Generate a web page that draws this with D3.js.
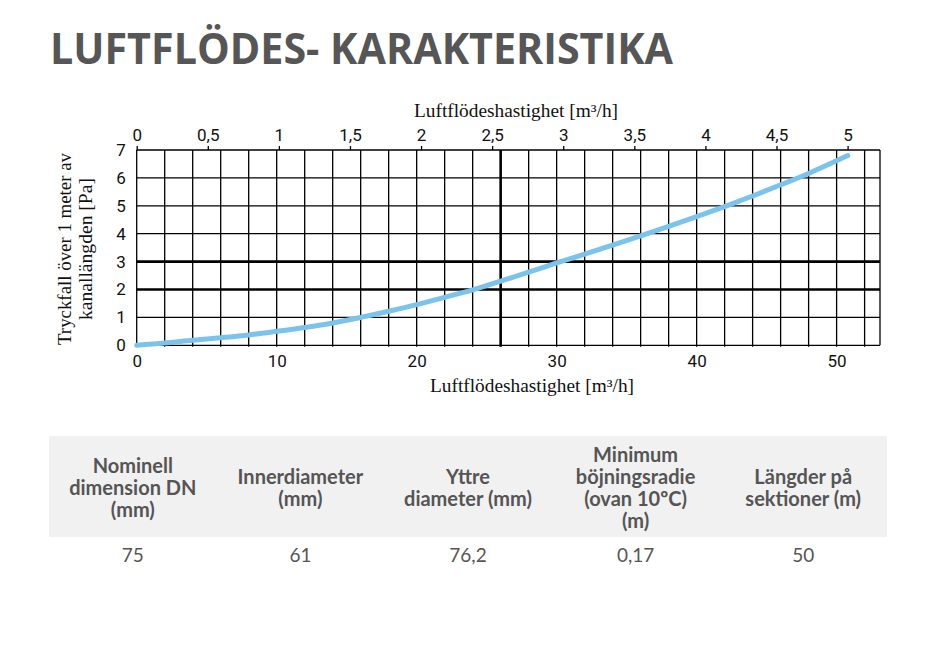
<!DOCTYPE html>
<html>
<head>
<meta charset="utf-8">
<script src="https://cdn.jsdelivr.net/npm/d3@7/dist/d3.min.js"></script>
<style>
  html, body { margin: 0; padding: 0; background: #fff; }
  svg { display: block; }
</style>
</head>
<body>
<svg id="chart" width="936" height="658"></svg>
<script>
// ---- data ----
const flow = [0, 2, 4, 6, 8, 10, 12, 14, 16, 18, 20, 22, 24, 26, 28, 30, 32, 34, 36, 38, 40, 42, 44, 46, 48, 50.8];
const pressure = [0, 0.08, 0.18, 0.27, 0.37, 0.5, 0.64, 0.8, 1.0, 1.22, 1.46, 1.72, 1.99, 2.3, 2.62, 2.95, 3.27, 3.59, 3.92, 4.26, 4.61, 4.97, 5.35, 5.75, 6.16, 6.8];
const bottomTicks = [0, 10, 20, 30, 40, 50];
const topTicks = [0, 0.5, 1, 1.5, 2, 2.5, 3, 3.5, 4, 4.5, 5];
const yTicks = [0, 1, 2, 3, 4, 5, 6, 7];
const flowMax = 53.1;
const topMax = 5.228;
const gridX = d3.range(0, 53, 2);
const gridY = [0, 1, 2, 3, 4, 5, 6, 7];
const boldX = [26];
const boldY = [2, 3];

const title = "LUFTFLÖDES- KARAKTERISTIKA";
const xTitle = "Luftflödeshastighet [m³/h]";
const yTitleLines = ["Tryckfall över 1 meter av", "kanallängden [Pa]"];
const tableHeaders = [
  ["Nominell", "dimension DN", "(mm)"],
  ["Innerdiameter", "(mm)"],
  ["Yttre", "diameter (mm)"],
  ["Minimum", "böjningsradie", "(ovan 10ºC)", "(m)"],
  ["Längder på", "sektioner (m)"]
];
const tableValues = ["75", "61", "76,2", "0,17", "50"];

// ---- layout ----
const svg = d3.select("#chart");
const L = 136.7, R = 880, T = 150, B = 345.3;
const x = d3.scaleLinear().domain([0, flowMax]).range([L, R]);
const xTop = d3.scaleLinear().domain([0, topMax]).range([L, R]);
const y = d3.scaleLinear().domain([0, 7]).range([B, T]);
const comma = d => String(d).replace(".", ",");

const tickFont = "Roboto, 'DejaVu Sans', sans-serif";
const serif = "'Liberation Serif', 'DejaVu Serif', serif";
const sansB = "Lato, 'Open Sans', sans-serif";

// title
svg.append("text")
  .attr("x", 50).attr("y", 63.5)
  .attr("font-family", "'Open Sans', sans-serif").attr("font-weight", 700)
  .attr("font-size", 43).attr("fill", "#565656")
  .attr("textLength", 623).attr("lengthAdjust", "spacingAndGlyphs")
  .text(title);

// grid
const g = svg.append("g");
g.selectAll("line.gx").data(gridX).join("line")
  .attr("x1", d => x(d)).attr("x2", d => x(d))
  .attr("y1", T).attr("y2", B + 1.5)
  .attr("stroke", "#000")
  .attr("stroke-width", d => boldX.includes(d) ? 2.6 : 1.3);
g.selectAll("line.gy").data(gridY).join("line")
  .attr("x1", L).attr("x2", R)
  .attr("y1", d => y(d)).attr("y2", d => y(d))
  .attr("stroke", "#000")
  .attr("stroke-width", d => boldY.includes(d) ? 2.6 : 1.3);
g.append("line").attr("x1", R).attr("x2", R).attr("y1", T).attr("y2", B)
  .attr("stroke", "#000").attr("stroke-width", 1.3);

// top axis
const topAxis = d3.axisTop(xTop).tickValues(topTicks).tickSize(4).tickPadding(5).tickFormat(comma);
const gt = svg.append("g").attr("transform", `translate(0,${T})`).call(topAxis);
gt.select(".domain").remove();
gt.selectAll(".tick line").attr("stroke", "#000").attr("stroke-width", 1.3);
gt.selectAll(".tick text").attr("font-family", tickFont).attr("font-size", 17).attr("fill", "#111");

// bottom axis
const botAxis = d3.axisBottom(x).tickValues(bottomTicks).tickSize(0).tickPadding(10).tickFormat(d => d);
const gb = svg.append("g").attr("transform", `translate(0,${B})`).call(botAxis);
gb.select(".domain").remove();
gb.selectAll(".tick text").attr("font-family", tickFont).attr("font-size", 17).attr("fill", "#111");

// left axis
const leftAxis = d3.axisLeft(y).tickValues(yTicks).tickSize(0).tickPadding(11).tickFormat(d => d);
const gl = svg.append("g").attr("transform", `translate(${L},0)`).call(leftAxis);
gl.select(".domain").remove();
gl.selectAll(".tick text").attr("font-family", tickFont).attr("font-size", 17).attr("fill", "#111");

// axis titles
svg.append("text").attr("x", 516).attr("y", 117).attr("text-anchor", "middle")
  .attr("font-family", serif).attr("font-size", 18).attr("fill", "#111")
  .attr("textLength", 204).attr("lengthAdjust", "spacingAndGlyphs")
  .text(xTitle);
svg.append("text").attr("x", 532).attr("y", 392).attr("text-anchor", "middle")
  .attr("font-family", serif).attr("font-size", 18).attr("fill", "#111")
  .attr("textLength", 204).attr("lengthAdjust", "spacingAndGlyphs")
  .text(xTitle);
const yLens = [192, 142];
const yBase = [71, 92];
yTitleLines.forEach((t, i) => {
  svg.append("text")
    .attr("transform", `translate(${yBase[i]},249) rotate(-90)`)
    .attr("text-anchor", "middle")
    .attr("font-family", serif).attr("font-size", 19).attr("fill", "#111")
    .attr("textLength", yLens[i]).attr("lengthAdjust", "spacingAndGlyphs")
    .text(t);
});

// curve
const pts = flow.map((f, i) => [f, pressure[i]]);
const line = d3.line().x(d => x(d[0])).y(d => y(d[1])).curve(d3.curveCatmullRom.alpha(0.5));
svg.append("path").datum(pts).attr("d", line)
  .attr("fill", "none").attr("stroke", "#7cc3ec").attr("stroke-width", 5)
  .attr("stroke-linecap", "round").attr("stroke-linejoin", "round");

// table
const col = d3.scaleBand().domain(d3.range(5)).range([49, 887]);
svg.append("rect").attr("x", 49).attr("y", 436).attr("width", 838).attr("height", 101)
  .attr("fill", "#f1f1f1");
const lh = 22;
tableHeaders.forEach((lines, i) => {
  const n = lines.length;
  const first = 495 - (n - 1) * lh / 2;
  const t = svg.append("text").attr("text-anchor", "middle")
    .attr("font-family", sansB).attr("font-weight", 700).attr("font-size", 20)
    .attr("fill", "#555");
  lines.forEach((s, k) => {
    t.append("tspan").attr("x", col(i) + col.bandwidth() / 2)
      .attr("y", first + k * lh).text(s);
  });
});
svg.selectAll("text.val").data(tableValues).join("text")
  .attr("class", "val")
  .attr("x", (d, i) => col(i) + col.bandwidth() / 2).attr("y", 562)
  .attr("text-anchor", "middle")
  .attr("font-family", sansB).attr("font-size", 19).attr("fill", "#555")
  .text(d => d);
</script>
</body>
</html>
